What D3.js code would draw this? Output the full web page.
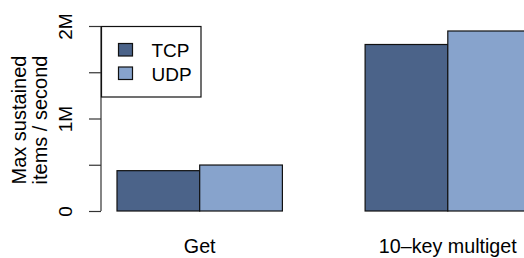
<!DOCTYPE html>
<html>
<head>
<meta charset="utf-8">
<script src="https://cdn.jsdelivr.net/npm/d3@7"></script>
<style>
  body { margin: 0; background: #fff; }
  svg { display: block; font-family: "Liberation Sans", Arial, Helvetica, sans-serif; }
</style>
</head>
<body>
<svg></svg>
<script>
var width = 524;
var height = 258;

// data
var categories = ['Get', '10\u2013key multiget'];
var series = ['TCP', 'UDP'];
var tcpValues = [436000, 1800000];
var udpValues = [497000, 1946000];
var tickValues = [0, 500000, 1000000, 1500000, 2000000];
var tickLabels = ['0', '', '1M', '', '2M'];
var colors = ['#4b6389', '#87a3cc'];

var svg = d3.select('svg')
            .attr('width', width)
            .attr('height', height);

var y = d3.scaleLinear()
          .domain([0, 2000000])
          .range([211, 26]);

var x = d3.scaleBand()
          .domain(categories)
          .range([117, 530.5])
          .paddingInner(1 / 3)
          .paddingOuter(0);

var xs = d3.scaleBand()
           .domain(series)
           .range([0, x.bandwidth()]);

var rows = categories.map(function(c, i) {
  return { cat: c, values: [tcpValues[i], udpValues[i]] };
});

// bars
var groups = svg.append('g')
  .selectAll('g')
  .data(rows)
  .enter()
  .append('g')
  .attr('transform', d => 'translate(' + x(d.cat) + ',0)');

groups.selectAll('rect')
  .data(d => d.values.map((v, j) => ({ s: series[j], v: v, j: j })))
  .enter()
  .append('rect')
  .attr('x', d => xs(d.s))
  .attr('width', xs.bandwidth())
  .attr('y', d => y(d.v))
  .attr('height', d => y(0) - y(d.v))
  .attr('fill', d => colors[d.j])
  .attr('stroke', '#111')
  .attr('stroke-width', 1.2);

// y axis
var yAxis = d3.axisLeft(y)
              .tickValues(tickValues)
              .tickFormat((d, i) => tickLabels[i])
              .tickSize(12)
              .tickPadding(0);

var ya = svg.append('g')
  .attr('transform', 'translate(101,0)')
  .call(yAxis);
ya.select('.domain').attr('d', 'M0,' + y(2000000) + 'V' + y(0)).attr('stroke', '#333').attr('stroke-width', 1.2);
ya.selectAll('.tick line').attr('stroke', '#333').attr('stroke-width', 1.2);
ya.selectAll('.tick text')
  .attr('x', null).attr('dy', null)
  .attr('transform', 'translate(-29,0) rotate(-90)')
  .attr('text-anchor', 'middle')
  .attr('font-size', 19)
  .attr('font-family', null)
  .attr('fill', '#000');

// y label
svg.append('text')
   .attr('transform', 'translate(25.5,120) rotate(-90)')
   .attr('text-anchor', 'middle')
   .attr('font-size', 20)
   .text('Max sustained');
svg.append('text')
   .attr('transform', 'translate(47,120) rotate(-90)')
   .attr('text-anchor', 'middle')
   .attr('font-size', 20)
   .text('items / second');

// x labels
svg.append('g')
  .selectAll('text')
  .data(categories)
  .enter()
  .append('text')
  .attr('x', d => x(d) + x.bandwidth() / 2)
  .attr('y', 253)
  .attr('text-anchor', 'middle')
  .attr('font-size', 19.7)
  .text(d => d);

// legend
var legend = svg.append('g');
legend.append('rect')
  .attr('x', 101.5).attr('y', 26.5)
  .attr('width', 99.5).attr('height', 70.5)
  .attr('fill', '#fff')
  .attr('stroke', '#111')
  .attr('stroke-width', 1.2);

legend.selectAll('.key')
  .data(series)
  .enter()
  .append('rect')
  .attr('x', 118.5)
  .attr('y', (d, i) => 43.5 + i * 23.5)
  .attr('width', 14)
  .attr('height', 12.5)
  .attr('fill', (d, i) => colors[i])
  .attr('stroke', '#111')
  .attr('stroke-width', 1.2);

legend.selectAll('.label')
  .data(series)
  .enter()
  .append('text')
  .attr('x', 151.5)
  .attr('y', (d, i) => 57 + i * 23.5)
  .attr('font-size', 19)
  .text(d => d);
</script>
</body>
</html>
